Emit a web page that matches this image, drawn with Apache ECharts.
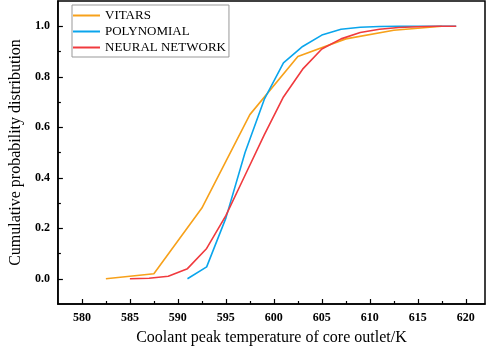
<!DOCTYPE html>
<html>
<head>
<meta charset="utf-8">
<script src="https://cdn.jsdelivr.net/npm/echarts@6/dist/echarts.min.js"></script>
<style>
  html, body { margin: 0; padding: 0; background: #fff; }
  #chart { width: 491px; height: 351px; }
</style>
</head>
<body>
<div id="chart"></div>
<script>
const vitarsX = [582.5, 587.5, 592.5, 597.5, 602.5, 607.5, 612.5, 617.5]
const vitarsY = [0, 0.02, 0.28, 0.65, 0.88, 0.95, 0.984, 1.0]

const polyX = [591, 593, 595, 597, 599, 601, 603, 605, 607, 609, 611, 613, 615, 617, 619]
const polyY = [0, 0.047, 0.24, 0.5, 0.71, 0.855, 0.92, 0.965, 0.988, 0.996, 0.999, 1, 1, 1, 1]

const nnX = [585, 587, 589, 591, 593, 595, 597, 599, 601, 603, 605, 607, 609, 611, 613, 615, 617, 619]
const nnY = [0, 0.002, 0.01, 0.04, 0.12, 0.25, 0.41, 0.57, 0.72, 0.83, 0.91, 0.95, 0.975, 0.988, 0.995, 0.998, 1, 1]

const xMajor = [580, 585, 590, 595, 600, 605, 610, 615, 620]
const xMinor = [582.5, 587.5, 592.5, 597.5, 602.5, 607.5, 612.5, 617.5]
const yMajor = [0, 0.2, 0.4, 0.6, 0.8, 1.0]
const yMinor = [0.1, 0.3, 0.5, 0.7, 0.9]

const pairs = (xs, ys) => xs.map((x, i) => [x, ys[i]])

const serif = 'Liberation Serif'
const chart = echarts.init(document.getElementById('chart'))

const lineAxis = { show: true, onZero: false, lineStyle: { color: '#000', width: 1.5 } }

chart.setOption({
  animation: false,
  grid: {
    left: 46, right: 6, top: 1, bottom: 45,
    show: true, borderColor: '#000', borderWidth: 1.5
  },
  legend: {
    orient: 'vertical',
    left: 72, top: 5,
    icon: 'rect',
    itemWidth: 27, itemHeight: 2, itemGap: 3,
    padding: [4, 3, 3, 1],
    borderColor: '#999', borderWidth: 1,
    textStyle: { fontFamily: serif, fontSize: 13, color: '#000', lineHeight: 13 },
    data: ['VITARS', 'POLYNOMIAL', 'NEURAL NETWORK']
  },
  xAxis: [
    {
      type: 'value', min: 577.5, max: 622,
      name: 'Coolant peak temperature of core outlet/K',
      nameLocation: 'middle', nameGap: 26,
      nameTextStyle: { fontFamily: serif, fontSize: 16, color: '#000' },
      axisLine: lineAxis,
      axisTick: { show: true, inside: true, length: 5, customValues: xMajor, lineStyle: { color: '#000', width: 1.2 } },
      axisLabel: { customValues: xMajor, margin: 8, fontFamily: serif, fontWeight: 'bold', fontSize: 12, color: '#000' },
      splitLine: { show: false }
    },
    {
      type: 'value', min: 577.5, max: 622, position: 'bottom',
      axisLine: { show: false, onZero: false },
      axisTick: { show: true, inside: true, length: 3, customValues: xMinor, lineStyle: { color: '#000', width: 1.2 } },
      axisLabel: { show: false },
      splitLine: { show: false }
    }
  ],
  yAxis: [
    {
      type: 'value', min: -0.1, max: 1.1,
      name: 'Cumulative probability distribution',
      nameLocation: 'middle', nameGap: 28,
      nameTextStyle: { fontFamily: serif, fontSize: 16, color: '#000' },
      axisLine: lineAxis,
      axisTick: { show: true, inside: true, length: 5, customValues: yMajor, lineStyle: { color: '#000', width: 1.2 } },
      axisLabel: {
        customValues: yMajor, margin: 8,
        fontFamily: serif, fontWeight: 'bold', fontSize: 12, color: '#000',
        formatter: v => v.toFixed(1)
      },
      splitLine: { show: false }
    },
    {
      type: 'value', min: -0.1, max: 1.1, position: 'left',
      axisLine: { show: false, onZero: false },
      axisTick: { show: true, inside: true, length: 3, customValues: yMinor, lineStyle: { color: '#000', width: 1.2 } },
      axisLabel: { show: false },
      splitLine: { show: false }
    }
  ],
  series: [
    {
      name: 'VITARS', type: 'line', symbol: 'none',
      color: '#F7A11A', lineStyle: { width: 1.6 },
      data: pairs(vitarsX, vitarsY)
    },
    {
      name: 'POLYNOMIAL', type: 'line', symbol: 'none',
      color: '#0AA5EC', lineStyle: { width: 1.6 },
      data: pairs(polyX, polyY)
    },
    {
      name: 'NEURAL NETWORK', type: 'line', symbol: 'none',
      color: '#F03A3E', lineStyle: { width: 1.6 },
      data: pairs(nnX, nnY)
    }
  ]
})
</script>
</body>
</html>
